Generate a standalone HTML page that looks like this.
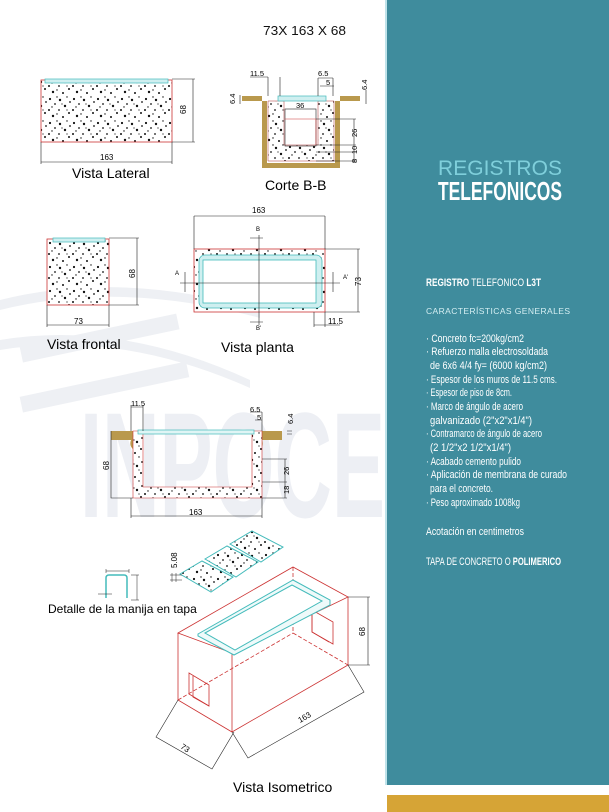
<!DOCTYPE html>
<html><head><meta charset="utf-8"><style>
html,body{margin:0;padding:0;background:#fff;}
svg{display:block;}
</style></head><body>
<svg width="609" height="812" viewBox="0 0 609 812" xmlns="http://www.w3.org/2000/svg" font-family="Liberation Sans, sans-serif">
<defs>
<pattern id="dots" width="24" height="24" patternUnits="userSpaceOnUse">
<rect width="24" height="24" fill="#fff"/>
<g fill="#111">
<circle cx="2" cy="3" r="1.1"/><circle cx="12" cy="4" r="1.2"/><circle cx="22" cy="6" r="0.9"/>
<circle cx="7" cy="8" r="0.9"/><circle cx="17" cy="10" r="1.2"/><circle cx="1" cy="14" r="1"/>
<circle cx="11" cy="14" r="0.9"/><circle cx="21" cy="17" r="1"/><circle cx="5" cy="20" r="1.2"/>
<circle cx="15" cy="21" r="1"/><circle cx="9" cy="1" r="0.7"/><circle cx="19" cy="1" r="0.7"/>
<circle cx="14" cy="8" r="0.6"/><circle cx="4" cy="11" r="0.7"/><circle cx="19" cy="14" r="0.6"/><circle cx="9" cy="18" r="0.7"/>
</g>
</pattern>
</defs>

<g fill="#eef0f4">
<path d="M0 300 Q120 270 260 310 L260 318 Q120 280 0 310Z"/>
<path d="M0 340 Q120 320 250 380 L250 388 Q120 330 0 350Z"/>
<rect x="20" y="330" width="160" height="16" transform="rotate(-12 100 340)"/>
<rect x="20" y="380" width="170" height="16" transform="rotate(-12 100 390)"/>
</g>
<text x="80" y="517" font-size="150" font-weight="bold" fill="#edeff4" textLength="305" lengthAdjust="spacingAndGlyphs">INPOCE</text>

<text x="263" y="35" font-size="13" fill="#111" textLength="83" lengthAdjust="spacingAndGlyphs">73X 163 X 68</text>

<!-- Vista Lateral -->
<rect x="41" y="80" width="131" height="62" fill="url(#dots)" stroke="#c33" stroke-width="0.8"/>
<rect x="45" y="79" width="123" height="4" fill="#cfeff0" stroke="#4bb" stroke-width="0.7"/>
<g stroke="#222" stroke-width="0.6" fill="none">
<path d="M172 79H195M172 142H195M193 79V142M41 142V164M172 142V164M41 162H172"/>
</g>
<text x="186" y="114" font-size="8" transform="rotate(-90 186 114)">68</text>
<text x="100" y="160" font-size="8">163</text>
<text x="72" y="178" font-size="14">Vista Lateral</text>

<!-- Corte B-B -->
<path d="M242 96H262V168H340V96H360V101H335V163H267V101H242Z" fill="#b9994d"/>
<path d="M268 101H284V145H318V101H334V161H268Z" fill="url(#dots)" stroke="#a33" stroke-width="0.5"/>
<rect x="278" y="96" width="48" height="5" fill="#cfeff0" stroke="#4bb" stroke-width="0.7"/>
<g stroke="#222" stroke-width="0.6" fill="none">
<rect x="285" y="109" width="31" height="37"/>
<path d="M285 119H316V145" stroke="#c33"/>
<path d="M250 77H268M268 77V96M280 77V96M318 78H333M320 86H334M333 78V96M318 78V96"/>
<path d="M316 119H356M316 145H356M316 152H356M316 161H356M354 119V163"/>
<path d="M240 95V104M366 90V104"/>
</g>
<text x="250" y="76" font-size="7.5">11.5</text>
<text x="318" y="76" font-size="7.5">6.5</text>
<text x="326" y="85" font-size="7.5">5</text>
<text x="296" y="108" font-size="7.5">36</text>
<text x="235" y="104" font-size="7.5" transform="rotate(-90 235 104)">6.4</text>
<text x="367" y="90" font-size="7.5" transform="rotate(-90 367 90)">6.4</text>
<text x="357" y="137" font-size="7.5" transform="rotate(-90 357 137)">26</text>
<text x="357" y="154" font-size="7.5" transform="rotate(-90 357 154)">10</text>
<text x="357" y="163" font-size="7.5" transform="rotate(-90 357 163)">8</text>
<text x="265" y="190" font-size="14">Corte B-B</text>

<!-- Vista frontal -->
<rect x="47" y="239" width="62" height="66" fill="url(#dots)" stroke="#c33" stroke-width="0.8"/>
<rect x="53" y="238" width="52" height="4" fill="#cfeff0" stroke="#4bb" stroke-width="0.7"/>
<g stroke="#222" stroke-width="0.6" fill="none">
<path d="M109 238H139M109 305H139M137 238V305M47 305V327M109 305V327M47 325H109"/>
</g>
<text x="135" y="278" font-size="8" transform="rotate(-90 135 278)">68</text>
<text x="74" y="324" font-size="8">73</text>
<text x="47" y="349" font-size="14">Vista frontal</text>

<!-- Vista planta -->
<rect x="194" y="249" width="131" height="63" fill="url(#dots)" stroke="#c33" stroke-width="0.8"/>
<rect x="199" y="255" width="123" height="53" rx="6" fill="#cfeff0" stroke="#4bb" stroke-width="0.8"/>
<rect x="203" y="260" width="113" height="43" fill="#fff" stroke="#4bb" stroke-width="0.8"/>
<g stroke="#222" stroke-width="0.6" fill="none">
<path d="M194 216V249M325 216V249M194 216H325M325 249H360M325 312H360M358 249V312M314 312V327M325 312V327M314 325H340"/>
<path d="M259 235V325M180 283H340M250 238H263M250 322H263M185 272V292M333 272V292"/>
</g>
<text x="252" y="213" font-size="8">163</text>
<text x="256" y="231" font-size="6">B</text>
<text x="256" y="330" font-size="6">B'</text>
<text x="175" y="275" font-size="6">A</text>
<text x="343" y="279" font-size="6">A'</text>
<text x="361" y="286" font-size="8" transform="rotate(-90 361 286)">73</text>
<text x="328" y="324" font-size="8">11.5</text>
<text x="221" y="352" font-size="14">Vista planta</text>

<!-- Section -->
<path d="M111 431H138V452Q128 448 131 440H111Z" fill="#b9994d"/>
<path d="M282 431H255V452Q265 448 262 440H282Z" fill="#b9994d"/>
<path d="M133 431H143V487H252V431H262V498H133Z" fill="url(#dots)" stroke="#c33" stroke-width="0.6"/>
<rect x="138" y="430" width="116" height="4" fill="#dff5f5" stroke="#4bb" stroke-width="0.7"/>
<g stroke="#222" stroke-width="0.6" fill="none">
<path d="M111 431V498H133M131 405V431M143 405V431M131 407H143M250 412H262M255 420H262M262 412V431M287 431H292M287 434H292"/>
<path d="M262 459H287M262 482H287M262 498H287M285 459V498M131 498V518M262 498V518M131 516H262"/>
</g>
<text x="131" y="406" font-size="7.5">11.5</text>
<text x="250" y="412" font-size="7.5">6.5</text>
<text x="257" y="420" font-size="7.5">5</text>
<text x="293" y="424" font-size="7.5" transform="rotate(-90 293 424)">6.4</text>
<text x="109" y="470" font-size="8" transform="rotate(-90 109 470)">68</text>
<text x="289" y="475" font-size="7.5" transform="rotate(-90 289 475)">26</text>
<text x="289" y="494" font-size="7.5" transform="rotate(-90 289 494)">18</text>
<text x="189" y="515" font-size="8">163</text>

<!-- Detalle manija -->
<g stroke="#4bb" stroke-width="1.5" fill="none"><path d="M106 598V578Q106 575 109 575H124Q127 575 127 578V598"/></g>
<g stroke="#222" stroke-width="0.5" fill="none"><path d="M106 571H129M106 569V573M129 569V573M131 575H139M131 600H139M137 575V600M98 594H112"/></g>
<text x="48" y="613" font-size="12">Detalle de la manija en tapa</text>

<!-- tiles -->
<g fill="url(#dots)" stroke="#4bb" stroke-width="1">
<path d="M180 574L202 561L233 577L211 592Z"/>
<path d="M205 559L227 546L258 562L236 577Z"/>
<path d="M230 544L252 531L283 547L261 562Z"/>
</g>
<g stroke="#222" stroke-width="0.5" fill="none"><path d="M172 573V582M176 573V582M170 575H182M170 580H182"/></g>
<text x="177" y="568" font-size="8" transform="rotate(-90 177 568)">5.08</text>

<!-- Isometric -->
<g stroke="#c33" stroke-width="0.8" fill="none">
<path d="M178 633L293 567L348 597L232 653Z"/>
<path d="M178 633V700L232 732V653M232 732L348 665V597"/>
<path d="M293 567V633L348 665M178 700L293 633" stroke-dasharray="4 2"/>
<path d="M189 673L209 685V706L189 694Z"/>
<path d="M193 676V697L209 706"/>
<path d="M312 610L333 622V644L312 632Z"/>
<path d="M312 610V632L329 642"/>
</g>
<g stroke="#4bb" stroke-width="1" fill="#eefafa">
<path d="M198 634L293 580L330 600V605L234 655L198 636Z"/>
<path d="M205 633L292 585L322 601L235 650Z" fill="#fff"/>
</g>
<g stroke="#222" stroke-width="0.6" fill="none">
<path d="M348 597H370M348 665H370M368 597V665"/>
<path d="M178 700L156 737L212 769L234 732M232 732L248 758L364 692L348 665"/>
</g>
<text x="365" y="636" font-size="8" transform="rotate(-90 365 636)">68</text>
<text x="180" y="748" font-size="8" transform="rotate(32 180 748)">73</text>
<text x="300" y="723" font-size="8" transform="rotate(-30 300 723)">163</text>
<text x="233" y="792" font-size="14">Vista Isometrico</text>

<!-- right panel -->
<rect x="385" y="0" width="2" height="785" fill="#bfe3ea"/>
<rect x="387" y="0" width="222" height="785" fill="#3f8c9d"/>
<rect x="387" y="795" width="222" height="17" fill="#d6a436"/>
<text x="438" y="175" font-size="21" fill="#7fcfdb" textLength="124" lengthAdjust="spacing">REGISTROS</text>
<text x="438" y="200" font-size="26" font-weight="bold" fill="#fff" textLength="124" lengthAdjust="spacingAndGlyphs">TELEFONICOS</text>
<g fill="#fff" font-size="11">
<text x="426" y="286" textLength="115" lengthAdjust="spacingAndGlyphs"><tspan font-weight="bold">REGISTRO</tspan> TELEFONICO <tspan font-weight="bold">L3T</tspan></text>
<text x="426" y="314" fill="#d4eef2" font-size="8.5" textLength="144" lengthAdjust="spacing">CARACTERÍSTICAS GENERALES</text>
<text x="426" y="342" textLength="98" lengthAdjust="spacingAndGlyphs">· Concreto fc=200kg/cm2</text>
<text x="426" y="355" textLength="122" lengthAdjust="spacingAndGlyphs">· Refuerzo malla electrosoldada</text>
<text x="430" y="369" textLength="117" lengthAdjust="spacingAndGlyphs">de 6x6 4/4 fy= (6000 kg/cm2)</text>
<text x="426" y="383" textLength="131" lengthAdjust="spacingAndGlyphs">· Espesor de los muros de 11.5 cms.</text>
<text x="426" y="396" textLength="86" lengthAdjust="spacingAndGlyphs">· Espesor de piso de 8cm.</text>
<text x="426" y="410" textLength="97" lengthAdjust="spacingAndGlyphs">· Marco de ángulo de acero</text>
<text x="430" y="424" textLength="102" lengthAdjust="spacingAndGlyphs">galvanizado  (2"x2"x1/4")</text>
<text x="426" y="437" textLength="116" lengthAdjust="spacingAndGlyphs">· Contramarco de ángulo de acero</text>
<text x="430" y="451" textLength="81" lengthAdjust="spacingAndGlyphs">(2 1/2"x2 1/2"x1/4")</text>
<text x="426" y="465" textLength="95" lengthAdjust="spacingAndGlyphs">· Acabado cemento pulido</text>
<text x="426" y="478" textLength="141" lengthAdjust="spacingAndGlyphs">· Aplicación de membrana de curado</text>
<text x="430" y="492" textLength="63" lengthAdjust="spacingAndGlyphs">para el concreto.</text>
<text x="426" y="506" textLength="94" lengthAdjust="spacingAndGlyphs">· Peso aproximado 1008kg</text>
<text x="426" y="535" textLength="98" lengthAdjust="spacingAndGlyphs">Acotación en centimetros</text>
<text x="426" y="565" textLength="135" lengthAdjust="spacingAndGlyphs">TAPA DE CONCRETO O <tspan font-weight="bold">POLIMERICO</tspan></text>
</g>
</svg>
</body></html>
